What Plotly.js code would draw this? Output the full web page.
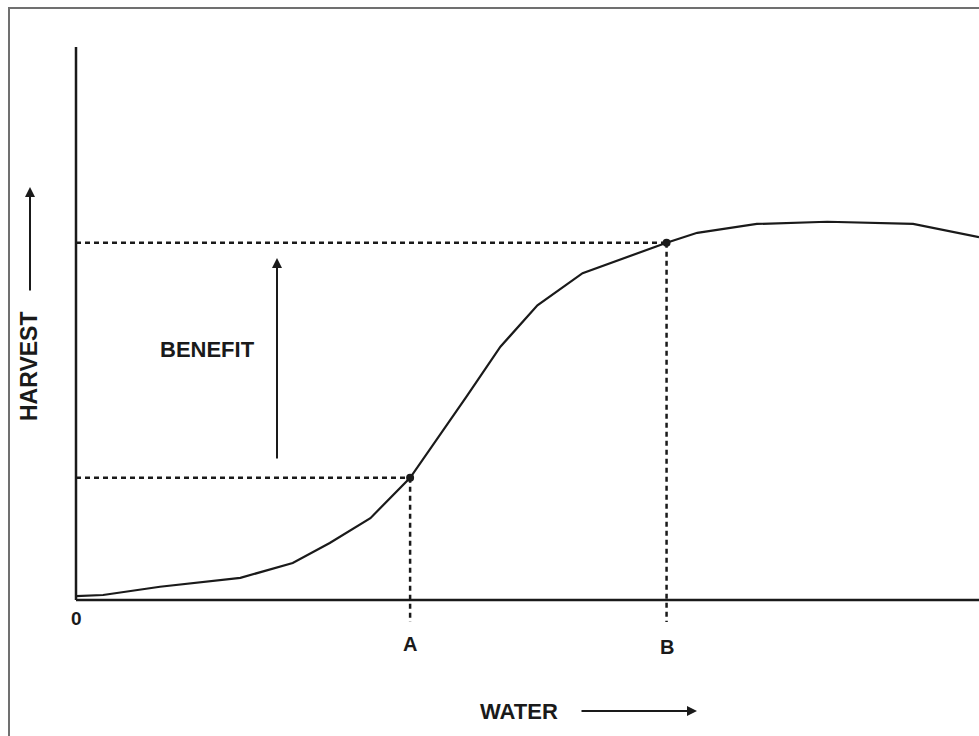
<!DOCTYPE html>
<html><head><meta charset="utf-8">
<script src="https://cdn.plot.ly/plotly-3.0.1.min.js"></script>
<style>html,body{margin:0;padding:0;background:#fff;overflow:hidden;}</style>
</head><body><div id="chart" style="width:979px;height:736px;"></div>
<script>
// ---- data (water and harvest in arbitrary units 0..10) ----
const water   = [0, 0.30, 0.93, 1.82, 2.40, 2.81, 3.26, 3.70, 4.33, 4.70, 5.11, 5.61, 6.54, 6.88, 7.54, 8.32, 9.27, 10.0];
const harvest = [0.07, 0.09, 0.24, 0.40, 0.67, 1.03, 1.48, 2.21, 3.69, 4.58, 5.33, 5.91, 6.46, 6.64, 6.80, 6.84, 6.80, 6.56];
const pointLabels  = ['A', 'B'];
const pointWater   = [3.70, 6.54];
const pointHarvest = [2.21, 6.46];
const originLabel = '0';
const xTitle = 'WATER';
const yTitle = 'HARVEST';
const benefitLabel = 'BENEFIT';

// ---- layout helpers (pixel -> axis coordinates) ----
const X = p => (p - 76) / 90.3;
const Y = q => (600 - q) / 55.3;
const ink = '#1a1a1a';
const font = (s) => ({family: 'Liberation Sans, Arial, sans-serif', size: s, color: ink, weight: 'bold'});
const dropEnd = -0.4;

const traces = [];
// dashed guide lines for A and B
pointWater.forEach((xv, i) => {
  const yv = pointHarvest[i];
  traces.push({x: [0, xv], y: [yv, yv], mode: 'lines', line: {color: ink, width: 2.5, dash: '5px,4px'}, hoverinfo: 'skip'});
  traces.push({x: [xv, xv], y: [yv, dropEnd], mode: 'lines', line: {color: ink, width: 2.5, dash: '5px,4px'}, hoverinfo: 'skip'});
});
// curve
traces.push({x: water, y: harvest, mode: 'lines', line: {color: ink, width: 2.2, shape: 'linear'}, hoverinfo: 'skip'});
// points
traces.push({x: pointWater, y: pointHarvest, mode: 'markers', marker: {color: ink, size: 8}, hoverinfo: 'skip'});

const annotations = [
  {x: 0, y: Y(618), text: originLabel, showarrow: false, font: font(19), xanchor: 'center', yanchor: 'middle'},
  {x: pointWater[0], y: Y(644), text: pointLabels[0], showarrow: false, font: font(20), xanchor: 'center', yanchor: 'middle'},
  {x: pointWater[1], y: Y(647), text: pointLabels[1], showarrow: false, font: font(20), xanchor: 'center', yanchor: 'middle'},
  {x: X(519), y: Y(711), text: xTitle, showarrow: false, font: font(22), xanchor: 'center', yanchor: 'middle'},
  {x: X(29), y: Y(366), text: yTitle, showarrow: false, font: font(23), textangle: -90, xanchor: 'center', yanchor: 'middle'},
  {x: X(207), y: Y(349), text: benefitLabel, showarrow: false, font: font(22), xanchor: 'center', yanchor: 'middle'},
  // arrows
  {x: X(277), y: Y(258), text: '', showarrow: true, ax: 0, ay: 202, arrowhead: 2, arrowsize: 1, arrowwidth: 2, arrowcolor: ink, standoff: 0, startstandoff: 0},
  {x: X(30), y: Y(187), text: '', showarrow: true, ax: 0, ay: 105, arrowhead: 2, arrowsize: 1, arrowwidth: 2, arrowcolor: ink, standoff: 0, startstandoff: 0},
  {x: X(697), y: Y(711), text: '', showarrow: true, ax: -117, ay: 0, arrowhead: 2, arrowsize: 1, arrowwidth: 2, arrowcolor: ink, standoff: 0, startstandoff: 0}
];

const shapes = [
  // outer frame (left and top visible)
  {type: 'rect', xref: 'paper', yref: 'paper', x0: 9/979, x1: 1.02, y0: -0.02, y1: 1 - 8/736, line: {color: '#707070', width: 2}},
  // axis lines
  {type: 'line', xref: 'x', yref: 'y', x0: 0, x1: 10.2, y0: 0, y1: 0, line: {color: ink, width: 2.5}},
  {type: 'line', xref: 'x', yref: 'y', x0: 0, x1: 0, y0: 0, y1: 10.0, line: {color: ink, width: 2.5}}
];

const layout = {
  width: 979, height: 736, autosize: false,
  margin: {l: 0, r: 0, t: 0, b: 0, pad: 0},
  paper_bgcolor: '#fff', plot_bgcolor: '#fff',
  showlegend: false,
  xaxis: {range: [X(0), X(979)], visible: false, fixedrange: true},
  yaxis: {range: [Y(736), Y(0)], visible: false, fixedrange: true},
  annotations: annotations,
  shapes: shapes
};

Plotly.newPlot('chart', traces, layout, {displayModeBar: false, staticPlot: true});
</script>
</body></html>
